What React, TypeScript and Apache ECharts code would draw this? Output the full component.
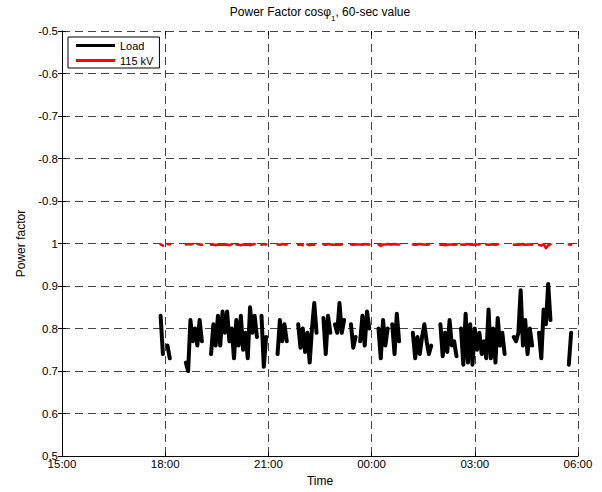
import React, { useEffect, useRef } from "react";
import * as echarts from "echarts";

// Time axis: minutes after 15:00
const AXIS_MIN = 0;
const AXIS_MAX = 900;
const AXIS_STEP = 180;
const START_MIN = 172; // 17:52
const STEP_MIN = 4;

const yTicks = [0.5, 0.6, 0.7, 0.8, 0.9, 1.0, 1.1, 1.2, 1.3, 1.4, 1.5];

const loadValues: (number | null)[] = [
  0.83, 0.74, null, 0.76, 0.73, null, null, null, null, null,
  null, 0.72, 0.70, 0.82, 0.77, 0.80, 0.76, 0.82, 0.77, null,
  null, null, 0.74, 0.81, 0.76, 0.83, 0.76, 0.84, 0.79, 0.84,
  0.77, 0.80, 0.73, 0.82, 0.76, 0.83, 0.75, 0.79, 0.73, 0.85,
  0.79, 0.83, 0.78, null, 0.83, 0.71, 0.78, null, null, null,
  null, 0.74, 0.82, 0.77, 0.81, 0.77, null, null, null, null,
  0.81, 0.755, 0.80, 0.745, 0.79, 0.72, 0.80, 0.86, 0.79, null,
  null, 0.825, 0.74, 0.83, 0.79, null, 0.81, 0.79, 0.86, 0.79,
  0.82, null, null, 0.81, 0.755, 0.78, null, 0.77, 0.83, 0.76,
  0.84, 0.80, null, null, null, 0.80, 0.73, 0.82, 0.76, 0.80,
  null, 0.81, 0.74, 0.835, 0.77, null, null, null, null, null,
  0.79, 0.73, 0.78, 0.74, 0.78, 0.81, 0.77, 0.74, 0.76, null,
  null, null, 0.81, 0.735, 0.79, 0.745, 0.82, 0.76, 0.77, 0.735,
  null, 0.80, 0.715, 0.835, 0.72, 0.81, 0.715, 0.80, 0.75, 0.79,
  0.74, 0.77, 0.73, 0.845, 0.73, 0.80, 0.72, 0.825, 0.76, 0.79,
  0.74, null, null, null, 0.78, 0.77, 0.79, 0.89, 0.76, 0.82,
  0.74, 0.80, 0.76, null, null, 0.79, 0.73, 0.845, 0.81, 0.905,
  0.82, null, null, null, null, null, null, null, 0.715, 0.79,
];

const busValues: (number | null)[] = [
  0.998, 0.995, null, 0.999, 0.998, null, null, null, null, null,
  null, 0.998, 0.999, 0.998, 0.999, null, 0.999, 0.998, 0.997, null,
  null, null, 0.997, 0.998, 0.996, 0.998, 0.997, 0.998, 0.997, 0.998,
  0.996, 0.998, null, 0.998, 0.997, 0.996, 0.998, 0.997, 0.998, 0.996,
  0.998, 0.999, null, null, 0.997, 0.999, 0.998, null, null, null,
  null, 0.998, 0.997, 0.999, 0.998, 0.998, null, null, null, null,
  0.997, 0.998, 0.996, null, 0.998, 0.996, 0.998, 0.997, null, null,
  null, 0.998, 0.997, 0.999, 0.998, 0.997, 0.997, 0.998, 0.997, 0.998,
  null, null, null, 0.998, 0.997, 0.998, 0.998, 0.998, 0.997, 0.999,
  0.998, 0.998, null, null, null, 0.998, 0.994, 0.998, 0.998, 0.999,
  0.998, 0.998, 0.999, 0.998, 0.998, null, null, null, null, null,
  0.998, 0.997, 0.998, 0.999, 0.998, 0.998, 0.997, 0.998, null, null,
  null, null, 0.997, 0.998, 0.996, 0.997, 0.998, 0.998, 0.997, 0.998,
  null, 0.998, 0.997, 0.998, 0.999, 0.998, 0.997, 0.998, 0.998, 0.998,
  null, null, 0.998, 0.997, 0.998, 0.998, 0.997, 0.998, null, null,
  null, null, null, null, 0.997, 0.998, 0.997, 0.998, 0.998, 0.997,
  0.998, 0.998, 0.997, null, null, 0.997, 0.995, 0.998, 0.989, 0.996,
  0.998, null, null, null, null, null, null, null, 0.998, 0.997,
];

const seriesNames = ["Load", "115 kV"];

const FONT = "Liberation Sans, Arial, Helvetica, sans-serif";

function timeLabel(m: number): string {
  const h = Math.floor((15 * 60 + m) / 60) % 24;
  return String(h).padStart(2, "0") + ":00";
}

function pfLabel(v: number): string {
  if (Math.abs(v - 1) < 1e-6) return "1";
  if (v < 1) return v.toFixed(1);
  return (v - 2).toFixed(1);
}

const toPairs = (vals: (number | null)[]) =>
  vals.map((v, i) => [START_MIN + i * STEP_MIN, v]);

export default function App() {
  const ref = useRef<HTMLDivElement>(null);
  useEffect(() => {
    if (!ref.current) return;
    const chart = echarts.init(ref.current, null, { renderer: "svg" });
    const gridLine = { show: true, lineStyle: { color: "#444", width: 1, type: [8, 5] as any } };
    chart.setOption({
      animation: false,
      backgroundColor: "#fff",
      textStyle: { fontFamily: FONT },
      graphic: [
        {
          type: "text",
          x: 320,
          y: 12,
          style: {
            text: "{a|Power Factor cos}{a|φ}{s|1}{a|, 60-sec value}",
            align: "center",
            verticalAlign: "middle",
            rich: {
              a: { fontSize: 12, fontFamily: FONT, fill: "#000", lineHeight: 15, verticalAlign: "middle" },
              s: { fontSize: 8, fontFamily: FONT, fill: "#000", lineHeight: 15, verticalAlign: "bottom", padding: [0, 0, -3, 0] },
            },
          },
        },
      ],
      legend: {
        orient: "vertical",
        left: 68,
        top: 37,
        padding: [3, 6, 2, 8],
        itemGap: 4,
        itemWidth: 39,
        itemHeight: 3,
        icon: "rect",
        borderColor: "#000",
        borderWidth: 1,
        backgroundColor: "#fff",
        textStyle: { fontSize: 11, color: "#000", fontFamily: FONT },
        data: [
          { name: seriesNames[0], itemStyle: { color: "#000" } },
          { name: seriesNames[1], itemStyle: { color: "#ff0000" } },
        ],
        z: 10,
      },
      grid: { left: 62, top: 31, width: 516, height: 432, containLabel: false },
      xAxis: [
        {
          type: "value",
          min: AXIS_MIN,
          max: AXIS_MAX,
          interval: AXIS_STEP,
          name: "Time",
          nameLocation: "middle",
          nameGap: 16,
          nameTextStyle: { fontSize: 12, color: "#000", fontFamily: FONT },
          axisLine: { show: true, onZero: false, lineStyle: { color: "#000", width: 1 } },
          axisTick: { show: true, inside: true, length: 4, lineStyle: { color: "#000" } },
          axisLabel: { formatter: (v: number) => timeLabel(v), fontSize: 11.5, color: "#000", margin: 2, fontFamily: FONT },
          splitLine: gridLine,
        },
        {
          type: "value",
          position: "top",
          min: AXIS_MIN,
          max: AXIS_MAX,
          interval: AXIS_STEP,
          axisLine: { show: false },
          axisTick: { show: true, inside: true, length: 4, lineStyle: { color: "#000" } },
          axisLabel: { show: false },
          splitLine: { show: false },
        },
      ],
      yAxis: [
        {
          type: "value",
          min: yTicks[0],
          max: yTicks[yTicks.length - 1],
          interval: 0.1,
          name: "Power factor",
          nameLocation: "middle",
          nameGap: 32,
          nameTextStyle: { fontSize: 12, color: "#000", fontFamily: FONT },
          axisLine: { show: true, onZero: false, lineStyle: { color: "#000", width: 1 } },
          axisTick: { show: true, inside: true, length: 4, lineStyle: { color: "#000" } },
          axisLabel: { formatter: (v: number) => pfLabel(v), fontSize: 11.5, color: "#000", margin: 4, fontFamily: FONT },
          splitLine: gridLine,
        },
        {
          type: "value",
          position: "right",
          min: yTicks[0],
          max: yTicks[yTicks.length - 1],
          interval: 0.1,
          axisLine: { show: false },
          axisTick: { show: true, inside: true, length: 4, lineStyle: { color: "#000" } },
          axisLabel: { show: false },
          splitLine: { show: false },
        },
      ],
      series: [
        {
          name: seriesNames[0],
          type: "line",
          data: toPairs(loadValues),
          showSymbol: false,
          connectNulls: false,
          lineStyle: { color: "#000", width: 4, join: "round", cap: "round" },
          itemStyle: { color: "#000" },
          z: 3,
        },
        {
          name: seriesNames[1],
          type: "line",
          data: toPairs(busValues),
          showSymbol: false,
          connectNulls: false,
          lineStyle: { color: "#ff0000", width: 2.5, join: "round", cap: "round" },
          itemStyle: { color: "#ff0000" },
          z: 4,
        },
      ],
    });
    return () => chart.dispose();
  }, []);
  return (
    <div
      ref={ref}
      style={{ position: "fixed", left: 0, top: 0, width: 602, height: 492, background: "#fff" }}
    />
  );
}
